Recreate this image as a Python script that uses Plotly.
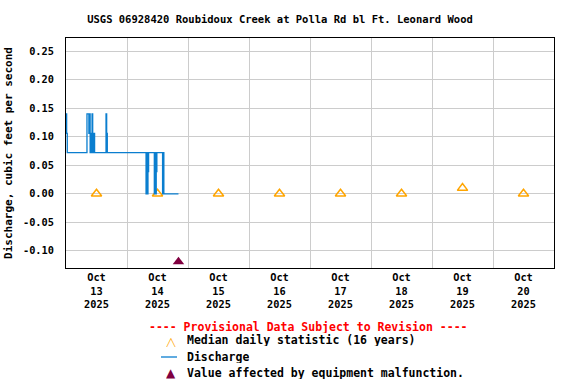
import plotly.graph_objects as go

# ---- data ----
discharge_times = [
    "2025-10-13 00:00", "2025-10-13 00:15", "2025-10-13 00:30", "2025-10-13 08:15",
    "2025-10-13 09:00", "2025-10-13 09:15", "2025-10-13 09:30", "2025-10-13 09:45",
    "2025-10-13 10:00", "2025-10-13 10:15", "2025-10-13 10:30", "2025-10-13 10:45",
    "2025-10-13 11:00", "2025-10-13 11:15", "2025-10-13 15:45", "2025-10-13 16:00",
    "2025-10-13 16:15", "2025-10-14 07:30", "2025-10-14 07:45", "2025-10-14 08:00",
    "2025-10-14 08:15", "2025-10-14 08:30", "2025-10-14 10:45", "2025-10-14 11:00",
    "2025-10-14 11:15", "2025-10-14 11:30", "2025-10-14 11:45", "2025-10-14 14:00",
    "2025-10-14 14:15", "2025-10-14 14:30", "2025-10-14 20:15",
]
discharge_values = [
    0.14, 0.106, 0.072, 0.14,
    0.106, 0.14, 0.072, 0.106,
    0.072, 0.14, 0.106, 0.072,
    0.106, 0.072, 0.14, 0.106,
    0.072, 0.0, 0.072, 0.0,
    0.039, 0.072, 0.0, 0.072,
    0.0, 0.039, 0.072, 0.0,
    0.072, 0.0, 0.0,
]
median_dates = [
    "2025-10-13 12:00", "2025-10-14 12:00", "2025-10-15 12:00", "2025-10-16 12:00",
    "2025-10-17 12:00", "2025-10-18 12:00", "2025-10-19 12:00", "2025-10-20 12:00",
]
median_values = [0.0, 0.0, 0.0, 0.0, 0.0, 0.0, 0.01, 0.0]
malfunction_times = ["2025-10-14 20:15"]
malfunction_values = [-0.119]
y_tick_vals = [-0.10, -0.05, 0.0, 0.05, 0.10, 0.15, 0.20, 0.25]
y_tick_text = ["-0.10", "-0.05", "0.00", "0.05", "0.10", "0.15", "0.20", "0.25"]

FONT = "DejaVu Sans Mono"
MEDIAN_COLOR = "#FFA500"
Q_COLOR = "#0A7ECF"
MALF_COLOR = "#800040"

NAME_MEDIAN = "Median daily statistic (16 years)"
NAME_Q = "Discharge"
NAME_MALF = "Value affected by equipment malfunction."

fig = go.Figure()
fig.add_trace(go.Scatter(
    x=median_dates, y=median_values, mode="markers", name=NAME_MEDIAN,
    marker=dict(symbol="triangle-up-open", size=9, color=MEDIAN_COLOR,
                line=dict(width=1.5, color=MEDIAN_COLOR)),
))
fig.add_trace(go.Scatter(
    x=discharge_times, y=discharge_values, mode="lines", line_shape="hv",
    name=NAME_Q, line=dict(color=Q_COLOR, width=1.3),
))
fig.add_trace(go.Scatter(
    x=malfunction_times, y=malfunction_values, mode="markers", name=NAME_MALF,
    marker=dict(symbol="triangle-up", size=10, color=MALF_COLOR),
))

# plot area in pixels: x 66..554, y 38..268
PL, PW, PB, PH = 66, 488, 268, 230


def px(x):
    return (x - PL) / PW


def py(y):
    return (PB - y) / PH


legend_font = dict(family=FONT, size=11.5, color="black", weight="bold")
annotations = [
    dict(text="---- Provisional Data Subject to Revision ----",
         x=px(308), y=py(326.5), xanchor="center", height=12,
         font=dict(family=FONT, size=11.5, color="red", weight="bold")),
    dict(text=NAME_MEDIAN, x=px(185), y=py(340), xanchor="left", height=12, font=legend_font),
    dict(text=NAME_Q, x=px(185), y=py(357), xanchor="left", height=12, font=legend_font),
    dict(text=NAME_MALF, x=px(185), y=py(373), xanchor="left", height=12, font=legend_font),
    dict(text="△", x=px(171), y=py(340.5), xanchor="center", height=12,
         font=dict(family="DejaVu Sans", size=13, color=MEDIAN_COLOR, weight="bold")),
    dict(text="▲", x=px(171), y=py(372.5), xanchor="center", height=12,
         font=dict(family="DejaVu Sans", size=12, color=MALF_COLOR)),
]
for a in annotations:
    a.update(xref="paper", yref="paper", yanchor="middle", showarrow=False)

fig.update_layout(
    width=576, height=384,
    margin=dict(l=66, r=22, t=38, b=116, autoexpand=False),
    paper_bgcolor="white", plot_bgcolor="white",
    font=dict(family=FONT, size=11, color="black", weight="bold"),
    title=dict(text="USGS 06928420 Roubidoux Creek at Polla Rd bl Ft. Leonard Wood",
               x=280 / 576, xanchor="center", y=1 - 19.5 / 384, yanchor="middle",
               font=dict(family=FONT, size=10.5, weight="bold")),
    showlegend=False,
    annotations=annotations,
    shapes=[dict(type="line", xref="paper", yref="paper",
                 x0=px(161), x1=px(177), y0=py(357), y1=py(357),
                 line=dict(color=Q_COLOR, width=1.3))],
)
fig.update_xaxes(
    type="date", range=["2025-10-13 00:00", "2025-10-21 00:00"],
    dtick=86400000, tick0="2025-10-13", ticklabelmode="period",
    tickformat="%b<br>%d<br>%Y", automargin=False,
    showgrid=True, gridcolor="#CCCCCC", gridwidth=1,
    showline=True, linecolor="black", linewidth=1, mirror=True,
    ticks="", tickfont=dict(family=FONT, size=10.3, weight="bold"),
    zeroline=False,
)
fig.update_yaxes(
    range=[-0.13, 0.273], tickvals=y_tick_vals, ticktext=y_tick_text,
    automargin=False,
    showgrid=True, gridcolor="#CCCCCC", gridwidth=1,
    showline=True, linecolor="black", linewidth=1, mirror=True,
    ticks="", tickfont=dict(family=FONT, size=10.3, weight="bold"),
    ticklabelstandoff=9, zeroline=False,
    title=dict(text="Discharge, cubic feet per second", standoff=8,
               font=dict(family=FONT, size=11, weight="bold")),
)

fig.write_html("out.html", config={"displayModeBar": False},
               post_script="document.body.style.margin='0';")
